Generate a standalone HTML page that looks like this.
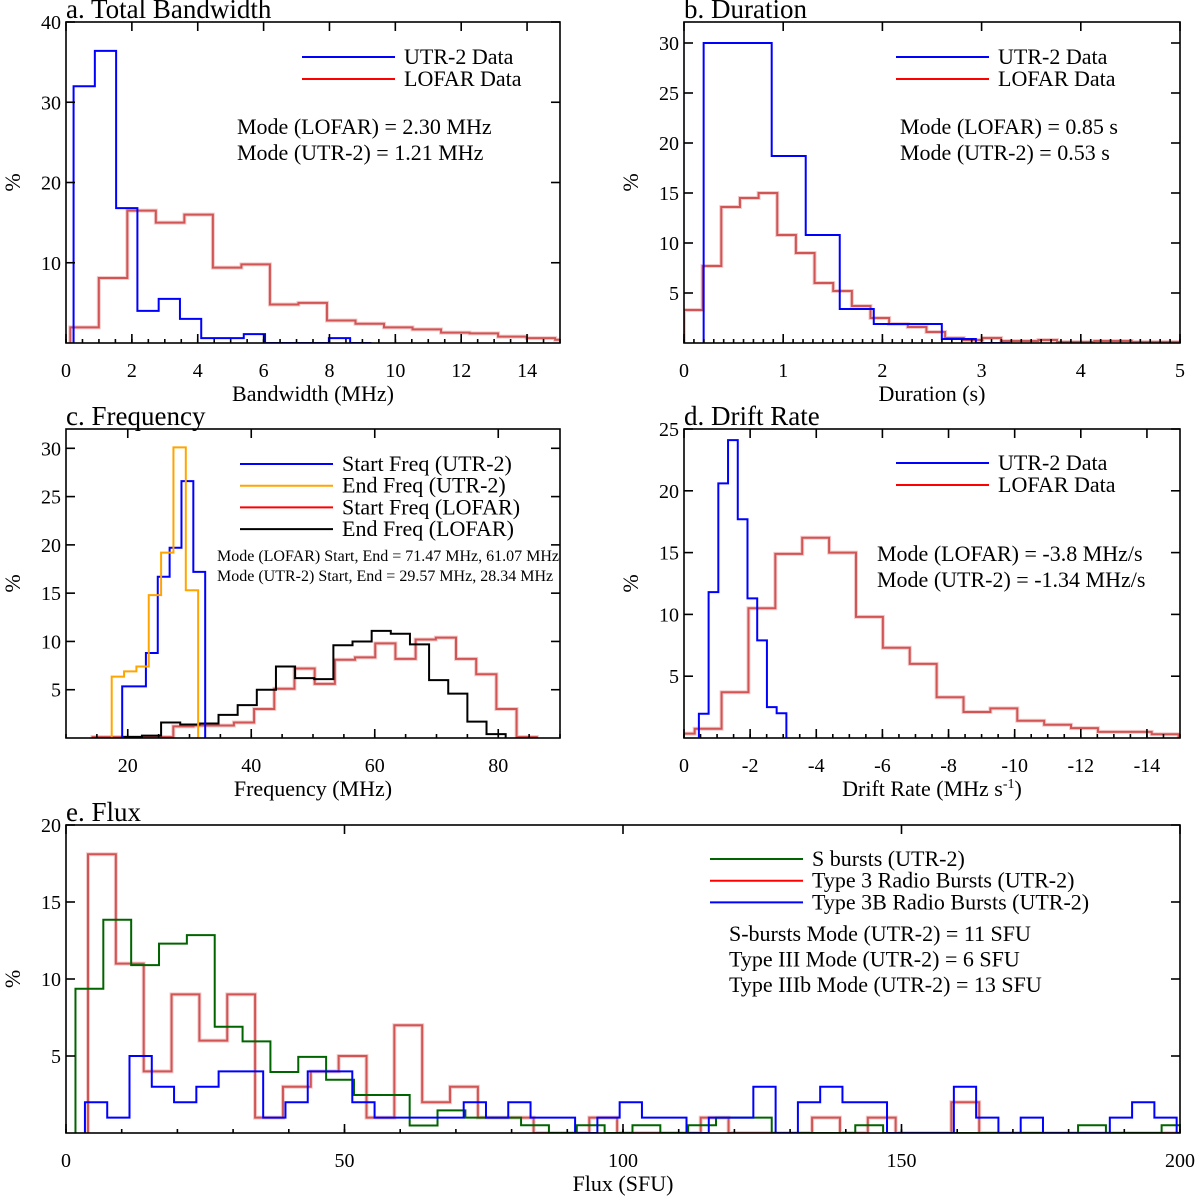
<!DOCTYPE html>
<html><head><meta charset="utf-8"><title>Burst statistics histograms</title>
<style>
html,body{margin:0;padding:0;background:#fff;}
svg{display:block;font-family:"Liberation Serif",serif;}
</style></head>
<body>
<svg id="fig" width="1200" height="1202" viewBox="0 0 1200 1202" xmlns="http://www.w3.org/2000/svg"></svg>
<script>
// ---------- Panel a: bandwidth ----------
const bwUtrStart = 0.23, bwUtrWidth = 0.646;
const bwUtrValues = [32.0,36.4,16.8,4.0,5.5,3.0,0.6,0.6,1.1,0,0,0,0.6,0];
const bwLofarStart = 0.13, bwLofarWidth = 0.866;
const bwLofarValues = [1.95,8.1,16.5,15.0,16.0,9.4,9.8,4.8,5.0,2.8,2.4,1.95,1.7,1.3,1.2,0.8,0.6,0.4];
const bwXTicks = [0,2,4,6,8,10,12,14];
const bwYTicks = [10,20,30,40];
// ---------- Panel b: duration ----------
const durUtrStart = 0.198, durUtrWidth = 0.343;
const durUtrValues = [30.0,30.0,18.7,10.8,3.4,1.9,1.9,0.4,0];
const durLofarStart = 0.0, durLofarWidth = 0.188;
const durLofarValues = [3.3,7.7,13.6,14.5,15.0,10.8,9.0,6.0,5.2,3.7,2.5,1.9,1.6,1.1,0.5,0.3,0.5,0.2,0.2,0.3,0.1,0.1,0.2,0.2,0.1,0.1,0.1,0.1];
const durXTicks = [0,1,2,3,4,5];
const durYTicks = [5,10,15,20,25,30];
// ---------- Panel c: frequency ----------
const fStartUtrStart = 19.1, fStartUtrWidth = 1.92;
const fStartUtrValues = [5.35,5.35,8.8,16.7,19.7,26.6,17.2];
const fEndUtrStart = 17.4, fEndUtrWidth = 2.0;
const fEndUtrValues = [6.35,6.9,7.4,14.8,19.2,30.1,15.3];
const fStartLofarStart = 14.3, fStartLofarWidth = 3.27;
const fStartLofarValues = [0.1,0.1,0.1,0.1,1.2,1.3,1.3,1.6,3.0,5.1,7.2,5.6,8.1,8.35,9.8,8.2,10.2,10.4,8.2,6.6,3.0,0.1];
const fEndLofarStart = 19.2, fEndLofarWidth = 3.1;
const fEndLofarValues = [0.1,0.24,1.6,1.4,1.5,2.4,3.4,5.0,7.4,6.2,6.1,9.6,10.0,11.1,10.8,9.7,6.0,4.6,1.7,0.4];
const fXTicks = [20,40,60,80];
const fYTicks = [5,10,15,20,25,30];
// ---------- Panel d: drift rate ----------
const drUtrStart = -0.45, drUtrWidth = -0.294;
const drUtrValues = [1.96,11.8,20.6,24.1,17.7,11.3,7.9,2.5,2.0];
const drLofarStart = 0.49, drLofarWidth = -0.813;
const drLofarValues = [0.35,0.75,3.7,10.5,14.9,16.2,15.0,9.8,7.3,6.0,3.3,2.1,2.4,1.4,1.07,0.8,0.5,0.5,0.3];
const drXTicks = [0,-2,-4,-6,-8,-10,-12,-14];
const drYTicks = [5,10,15,20,25];
// ---------- Panel e: flux ----------
const fluxSStart = 1.7, fluxSWidth = 5.0;
const fluxSValues = [9.37,13.85,10.9,12.3,12.85,6.9,5.95,3.96,4.94,3.46,2.47,2.47,0.49,1.47,1.0,1.0,0.5,0,0.5,0,0.5,0,0.5,1.0,1.0,0,0,0,0.5,0,0,0,0,0,0,0,0.5,0,0,0.5];
const fluxT3Start = 3.95, fluxT3Width = 5.0;
const fluxT3Values = [18.1,11.0,4.0,9.0,6.0,9.0,1.0,3.0,4.0,5.0,1.0,7.0,2.0,3.0,1.0,1.0,0,0,1.0,0,0,0,1.0,0,0,0,1.0,0,1.0,0,0,2.0,0,0,0,0,0,0,0,0];
const fluxT3bStart = 3.4, fluxT3bWidth = 4.0;
const fluxT3bValues = [2,1,5,3,2,3,4,4,1,2,4,4,2,1,1,1,1,2,1,2,1,1,0,1,2,1,1,0,1,1,3,0,2,3,2,2,0,0,0,3,1,0,1,0,0,0,1,2,1,0];
const fluxXTicks = [0,50,100,150,200];
const fluxYTicks = [5,10,15,20];

const NS = "http://www.w3.org/2000/svg";
const svg = document.getElementById("fig");
function mk(tag, parent){ const e = document.createElementNS(NS, tag); parent.appendChild(e); return e; }
let clipId = 0;

function makePanel(cfg){
  const g = mk("g", svg);
  
  
  const xs = v => cfg.L + (v - cfg.xmin) / (cfg.xmax - cfg.xmin) * (cfg.R - cfg.L);
  const ys = v => cfg.B - (v - cfg.ymin) / (cfg.ymax - cfg.ymin) * (cfg.B - cfg.T);
  const cp = mk("clipPath", g); const cid = "clip" + (clipId++); cp.setAttribute("id", cid);
  const cr = mk("rect", cp); cr.setAttribute("x", cfg.L); cr.setAttribute("y", cfg.T); cr.setAttribute("width", cfg.R - cfg.L); cr.setAttribute("height", cfg.B - cfg.T);
  const plot = mk("g", g); plot.setAttribute("clip-path", "url(#" + cid + ")");
  
  
  cfg.series.forEach(s => {
    let d = "M" + xs(s.start) + "," + ys(0);
    s.values.forEach((v, i) => {
      const x0 = xs(s.start + i * s.width), x1 = xs(s.start + (i + 1) * s.width);
      d += " L" + x0 + "," + ys(v) + " L" + x1 + "," + ys(v);
    });
    d += " L" + xs(s.start + s.values.length * s.width) + "," + ys(0);
    if (s.halo) {
      const h = mk("path", plot); h.setAttribute("d", d); h.setAttribute("fill", "none");
      h.setAttribute("stroke", s.halo); h.setAttribute("stroke-width", 4);
      
      
    }
    const p = mk("path", plot); p.setAttribute("d", d); p.setAttribute("fill", "none");
    p.setAttribute("stroke", s.color); p.setAttribute("stroke-width", 2);
    
    
  });
  const fr = mk("rect", g); fr.setAttribute("x", cfg.L); fr.setAttribute("y", cfg.T); fr.setAttribute("width", cfg.R - cfg.L); fr.setAttribute("height", cfg.B - cfg.T);
  fr.setAttribute("fill", "none"); fr.setAttribute("stroke", "#000"); fr.setAttribute("stroke-width", 1.6);
  
  
  const tg = mk("g", g); tg.setAttribute("stroke", "#000"); tg.setAttribute("stroke-width", 1.6);
  
  
  function line(x1,y1,x2,y2){ const l = mk("line", tg); l.setAttribute("x1",x1); l.setAttribute("y1",y1); l.setAttribute("x2",x2); l.setAttribute("y2",y2); return l; }
  const lo = Math.min(cfg.xmin, cfg.xmax), hi = Math.max(cfg.xmin, cfg.xmax);
  const nMinor = Math.round((hi - lo) / cfg.minor);
  for (let k = 0; k <= nMinor; k++) { const v = lo + k * cfg.minor; const x = xs(v); line(x, cfg.B, x, cfg.B - 4); }
  cfg.xticks.forEach(v => { const x = xs(v); line(x, cfg.B, x, cfg.B - 9); line(x, cfg.T, x, cfg.T + 9); });
  cfg.yticks.forEach(v => { const y = ys(v); line(cfg.L, y, cfg.L + 9, y); line(cfg.R, y, cfg.R - 9, y); });
  cfg.xticks.forEach(v => {
    const t = mk("text", g); t.setAttribute("x", xs(v)); t.setAttribute("y", cfg.B + 34);
    t.setAttribute("text-anchor", "middle"); t.setAttribute("font-size", 20); t.textContent = String(v);
    
    
  });
  cfg.yticks.forEach(v => {
    const t = mk("text", g); t.setAttribute("x", cfg.L - 5); t.setAttribute("y", ys(v) + 7);
    t.setAttribute("text-anchor", "end"); t.setAttribute("font-size", 20); t.textContent = String(v);
    
    
  });
  const ti = mk("text", g); ti.setAttribute("x", cfg.L); ti.setAttribute("y", cfg.T - 4);
  ti.setAttribute("font-size", 27); ti.textContent = cfg.title;
  
  
  const xt = mk("text", g); xt.setAttribute("x", (cfg.L + cfg.R) / 2); xt.setAttribute("y", cfg.B + 58);
  xt.setAttribute("text-anchor", "middle"); xt.setAttribute("font-size", 22);
  if (cfg.xsup) {
    xt.textContent = cfg.xtitle;
    const sp = mk("tspan", xt); sp.setAttribute("font-size", 14); sp.setAttribute("dy", -8); sp.textContent = cfg.xsup;
    const sp2 = mk("tspan", xt); sp2.setAttribute("dy", 8); sp2.textContent = ")";
  } else xt.textContent = cfg.xtitle;
  
  
  const yt = mk("text", g); const yc = (cfg.T + cfg.B) / 2; const yx = cfg.L - 46;
  yt.setAttribute("x", yx); yt.setAttribute("y", yc); yt.setAttribute("text-anchor", "middle");
  yt.setAttribute("font-size", 22); yt.setAttribute("transform", "rotate(-90 " + yx + " " + yc + ")");
  yt.textContent = "%";
  
  
  const lg = mk("g", g);
  
  
  cfg.legend.items.forEach((it, i) => {
    const y = cfg.legend.y + i * cfg.legend.dy;
    const l = mk("line", lg); l.setAttribute("x1", cfg.legend.x); l.setAttribute("x2", cfg.legend.x + 93);
    l.setAttribute("y1", y); l.setAttribute("y2", y); l.setAttribute("stroke", it[1]); l.setAttribute("stroke-width", 2);
    
    
    const t = mk("text", lg); t.setAttribute("x", cfg.legend.x + 102); t.setAttribute("y", y + 7);
    t.setAttribute("font-size", 22); t.textContent = it[0];
    
    
  });
  cfg.notes.lines.forEach((s, i) => {
    const t = mk("text", g); t.setAttribute("x", cfg.notes.x); t.setAttribute("y", cfg.notes.y + i * cfg.notes.dy);
    t.setAttribute("font-size", cfg.notes.size); t.textContent = s;
    
    
  });
}

const BLUE = "#0000ff", RED = "#d05555", HALO = "rgba(230,140,140,0.45)";

makePanel({name:"panel-a-bandwidth", L:66, R:560, T:22, B:343, xmin:0, xmax:15, ymin:0, ymax:40, minor:0.5,
  xticks:bwXTicks, yticks:bwYTicks, title:"a. Total Bandwidth", xtitle:"Bandwidth (MHz)",
  series:[{id:"lofar-bandwidth", start:bwLofarStart, width:bwLofarWidth, values:bwLofarValues, color:RED, halo:HALO},
          {id:"utr2-bandwidth", start:bwUtrStart, width:bwUtrWidth, values:bwUtrValues, color:BLUE}],
  legend:{x:302, y:57, dy:22, items:[["UTR-2 Data",BLUE],["LOFAR Data","#ff0000"]]},
  notes:{x:237, y:134, dy:26, size:22, lines:["Mode (LOFAR) = 2.30 MHz","Mode (UTR-2) = 1.21 MHz"]}});

makePanel({name:"panel-b-duration", L:684, R:1180, T:22, B:343, xmin:0, xmax:5, ymin:0, ymax:32.1, minor:0.1,
  xticks:durXTicks, yticks:durYTicks, title:"b. Duration", xtitle:"Duration (s)",
  series:[{id:"lofar-duration", start:durLofarStart, width:durLofarWidth, values:durLofarValues, color:RED, halo:HALO},
          {id:"utr2-duration", start:durUtrStart, width:durUtrWidth, values:durUtrValues, color:BLUE}],
  legend:{x:896, y:57, dy:22, items:[["UTR-2 Data",BLUE],["LOFAR Data","#ff0000"]]},
  notes:{x:900, y:134, dy:26, size:22, lines:["Mode (LOFAR) = 0.85 s","Mode (UTR-2) = 0.53 s"]}});

makePanel({name:"panel-c-frequency", L:66, R:560, T:429, B:738, xmin:10, xmax:90, ymin:0, ymax:32, minor:5,
  xticks:fXTicks, yticks:fYTicks, title:"c. Frequency", xtitle:"Frequency (MHz)",
  series:[{id:"lofar-start-freq", start:fStartLofarStart, width:fStartLofarWidth, values:fStartLofarValues, color:RED, halo:HALO},
          {id:"lofar-end-freq", start:fEndLofarStart, width:fEndLofarWidth, values:fEndLofarValues, color:"#000"},
          {id:"utr2-start-freq", start:fStartUtrStart, width:fStartUtrWidth, values:fStartUtrValues, color:BLUE},
          {id:"utr2-end-freq", start:fEndUtrStart, width:fEndUtrWidth, values:fEndUtrValues, color:"#ffa500"}],
  legend:{x:240, y:464, dy:21.7, items:[["Start Freq (UTR-2)",BLUE],["End Freq (UTR-2)","#ffa500"],["Start Freq (LOFAR)","#ff0000"],["End Freq (LOFAR)","#000"]]},
  notes:{x:217, y:561, dy:20, size:16, lines:["Mode (LOFAR) Start, End = 71.47 MHz, 61.07 MHz","Mode (UTR-2) Start, End = 29.57 MHz, 28.34 MHz"]}});

makePanel({name:"panel-d-drift-rate", L:684, R:1180, T:429, B:738, xmin:0, xmax:-15, ymin:0, ymax:25, minor:0.5,
  xticks:drXTicks, yticks:drYTicks, title:"d. Drift Rate", xtitle:"Drift Rate (MHz s", xsup:"-1",
  series:[{id:"lofar-drift", start:drLofarStart, width:drLofarWidth, values:drLofarValues, color:RED, halo:HALO},
          {id:"utr2-drift", start:drUtrStart, width:drUtrWidth, values:drUtrValues, color:BLUE}],
  legend:{x:896, y:463, dy:22, items:[["UTR-2 Data",BLUE],["LOFAR Data","#ff0000"]]},
  notes:{x:877, y:561, dy:26, size:22, lines:["Mode (LOFAR) = -3.8 MHz/s","Mode (UTR-2) = -1.34 MHz/s"]}});

makePanel({name:"panel-e-flux", L:66, R:1180, T:825, B:1133, xmin:0, xmax:200, ymin:0, ymax:20, minor:10,
  xticks:fluxXTicks, yticks:fluxYTicks, title:"e. Flux", xtitle:"Flux  (SFU)",
  series:[{id:"type3-flux", start:fluxT3Start, width:fluxT3Width, values:fluxT3Values, color:RED, halo:HALO},
          {id:"sburst-flux", start:fluxSStart, width:fluxSWidth, values:fluxSValues, color:"#006400"},
          {id:"type3b-flux", start:fluxT3bStart, width:fluxT3bWidth, values:fluxT3bValues, color:BLUE}],
  legend:{x:710, y:859, dy:21.7, items:[["S bursts (UTR-2)","#006400"],["Type 3 Radio Bursts (UTR-2)","#ff0000"],["Type 3B Radio Bursts (UTR-2)",BLUE]]},
  notes:{x:729, y:941, dy:25.5, size:22, lines:["S-bursts Mode (UTR-2) = 11 SFU","Type III Mode (UTR-2) = 6 SFU","Type IIIb Mode (UTR-2) = 13 SFU"]}});
</script>
</body></html>
